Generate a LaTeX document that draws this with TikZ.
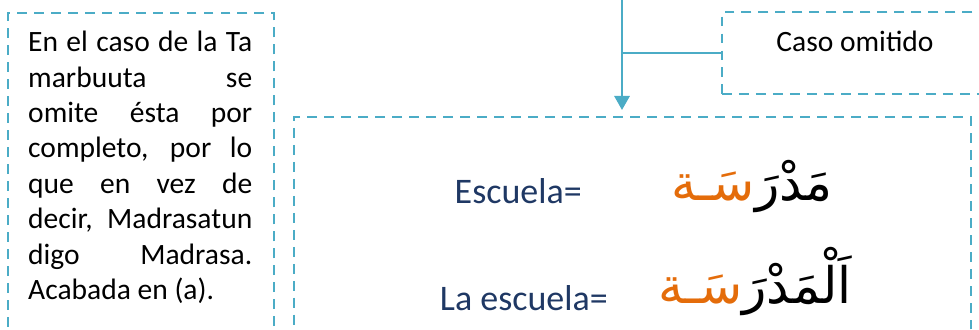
\documentclass[tikz,border=0pt]{standalone}
\usepackage{fontspec}
\setmainfont{Carlito}
\newfontfamily\arabicfont[Script=Arabic]{DejaVu Sans}
\TeXXeTstate=1
\usetikzlibrary{arrows.meta, positioning, fit}
\definecolor{boxblue}{RGB}{75, 172, 198}
\definecolor{taorange}{RGB}{228, 108, 10}
\definecolor{txtnavy}{RGB}{31, 56, 100}

\begin{document}
\begin{tikzpicture}[
  x=0.03cm, y=0.03cm,
  box/.style={draw=boxblue, line width=2.1pt, dash pattern=on 8.5pt off 6pt,
              inner sep=0pt},
  arr/.style={-{Triangle[length=12pt, width=13pt]}, line width=2.1pt, color=boxblue},
  lbl/.style={font=\fontsize{25.2}{30.2}\selectfont, inner sep=0pt},
  eq/.style={font=\fontsize{30.7}{37}\selectfont, text=txtnavy, inner sep=0pt},
  ar/.style={font=\arabicfont\fontsize{43}{50}\selectfont, inner sep=0pt}
]
  \clip (0,0) rectangle (979,329);
  \node[box, fit={(8,316) (274,-20)}]    (nota) {};
  \node[box, fit={(294,212) (971,-20)}]  (main) {};
  \node[box, fit={(722,317) (1010,235)}] (caso) {};

  \node[lbl, text width=6.72cm, align=justify, anchor=north west] (notatxt) at (28,298)
    {En el caso de la Ta\linebreak marbuuta se\linebreak omite ésta por\linebreak
     completo, por lo\linebreak que en vez de\linebreak decir, Madrasatun\linebreak
     digo Madrasa.\linebreak Acabada en (a).};
  \node[lbl, anchor=base] (casotxt) at (855,277) {Caso omitido};

  \node[eq, anchor=base east] (esc)   at (582,126) {Escuela=};
  \node[eq, anchor=base east] (laesc) at (608,19)  {La escuela=};
  \node[ar, anchor=base] (madrasa)   at (752,129)
    {{\color{taorange}\beginR سَـة\endR}\beginR مَدْرَ\endR};
  \node[ar, anchor=base] (almadrasa) at (755,26)
    {{\color{taorange}\beginR سَـة\endR}\beginR اَلْمَدْرَ\endR};

  \coordinate (top) at (622,340);
  \coordinate (tip) at (622,219);
  \draw[arr] (top) -- (tip);
  \draw[boxblue, line width=1.2pt] (caso.west) -- (caso.west -| tip);
\end{tikzpicture}
\end{document}
